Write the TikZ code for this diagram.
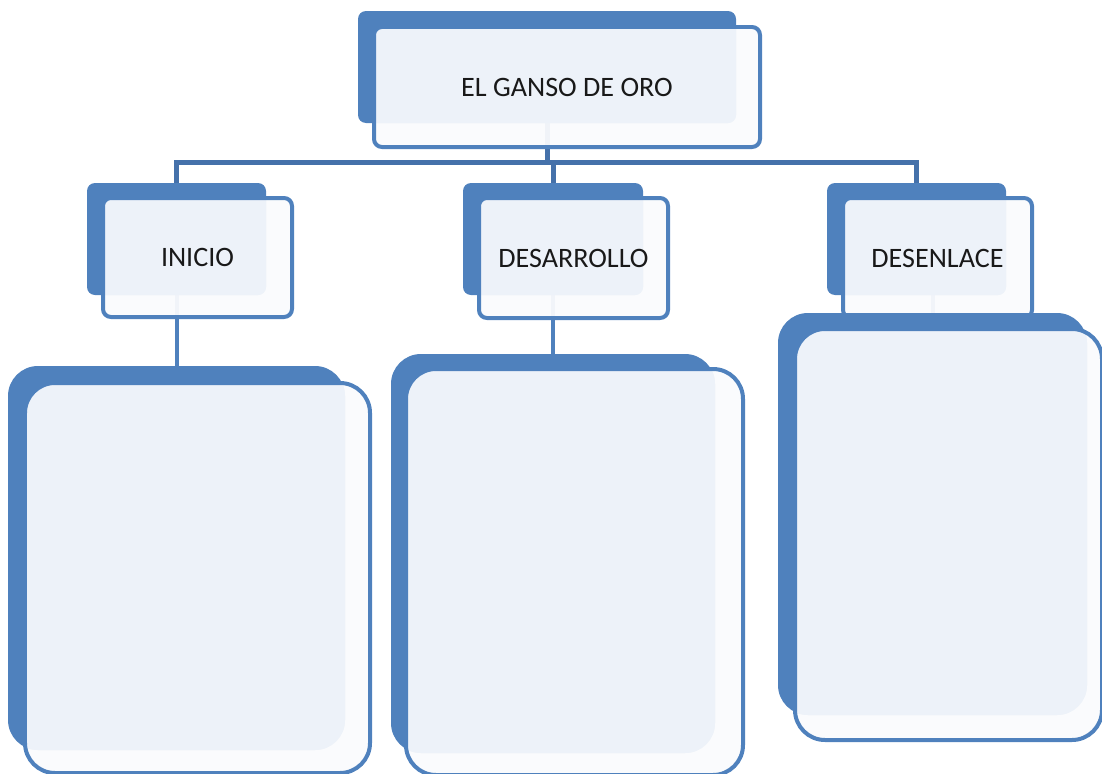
\documentclass[tikz,border=0pt]{standalone}
\usepackage{fontspec}
\setmainfont{Carlito}
\usepackage{tikz}
\usetikzlibrary{backgrounds}

\definecolor{azul}{HTML}{4F81BD}
\definecolor{claro}{HTML}{EDF2F9}
\definecolor{blanco}{HTML}{FAFBFD}
\definecolor{linea}{HTML}{4571AA}

\pgfdeclarelayer{atras}
\pgfsetlayers{atras,main}

% caja doble: nombre, esquina fondo, tam fondo, esquina frente, tam frente, radio, texto
\newcommand{\caja}[7]{%
  \node[fondo,#6,tam=#3] (#1-b) at (#2) {};
  \node[frente,#6,tam=#5] (#1) at (#4) {};
  \begin{scope}
    \clip[#6] (#1.south west) rectangle (#1.north east);
    \fill[claro,#6] (#1-b.south west) rectangle (#1-b.north east);
  \end{scope}
  \draw[borde,#6] (#1.south west) rectangle (#1.north east);
  \node[texto] (#1-t) at (#1.center) {#7};
}

\begin{document}
\begin{tikzpicture}[x=0.02cm,y=-0.02cm,
    fondo/.style={fill=azul, inner sep=0pt, outer sep=0pt, anchor=north west},
    frente/.style={fill=blanco, fill opacity=0.95, inner sep=0pt, outer sep=0pt, anchor=north west},
    borde/.style={draw=azul, line width=0.08cm},
    tam/.style 2 args={minimum width=#1*0.02cm, minimum height=#2*0.02cm},
    chica/.style={rounded corners=0.16cm},
    grande/.style={rounded corners=0.6cm},
    texto/.style={font=\fontsize{16}{19}\selectfont, text=black!90},
    conector/.style={draw=linea, line width=0.1cm},
    bajada/.style={draw=azul, line width=0.08cm}]
  \useasboundingbox (0,0) rectangle (1102,774);

  \caja{oro}{358,11}{{378}{112}}{374,27}{{386}{120}}{chica}{EL GANSO DE ORO}
  \caja{ini}{87,183}{{179}{112}}{103,198}{{189}{119}}{chica}{INICIO}
  \caja{des}{463,183}{{180}{112}}{479,198}{{189}{120}}{chica}{DESARROLLO}
  \caja{fin}{827,183}{{179}{112}}{843,198}{{189}{120}}{chica}{DESENLACE}

  \caja{ini2}{8,366}{{337}{384}}{25,383}{{345}{390}}{grande}{}
  \caja{des2}{391,354}{{324}{399}}{406,369}{{337}{406}}{grande}{}
  \caja{fin2}{778,313}{{309}{402}}{795,329}{{307}{411}}{grande}{}

  \coordinate (bus) at (547,162);
  \begin{pgfonlayer}{atras}
    \draw[conector] (oro-b.south) -- (bus);
    \draw[conector] (ini-b.north) |- (bus) -| (fin-b.north);
    \draw[conector] (des-b.north) -- (des-b.north |- bus);
    \draw[bajada] (ini-b.south -| ini2-b.north) -- (ini2-b.north);
    \draw[bajada] (des-b.south -| des2-b.north) -- (des2-b.north);
    \draw[bajada] (fin-b.south -| fin2-b.north) -- (fin2-b.north);
  \end{pgfonlayer}
\end{tikzpicture}
\end{document}
